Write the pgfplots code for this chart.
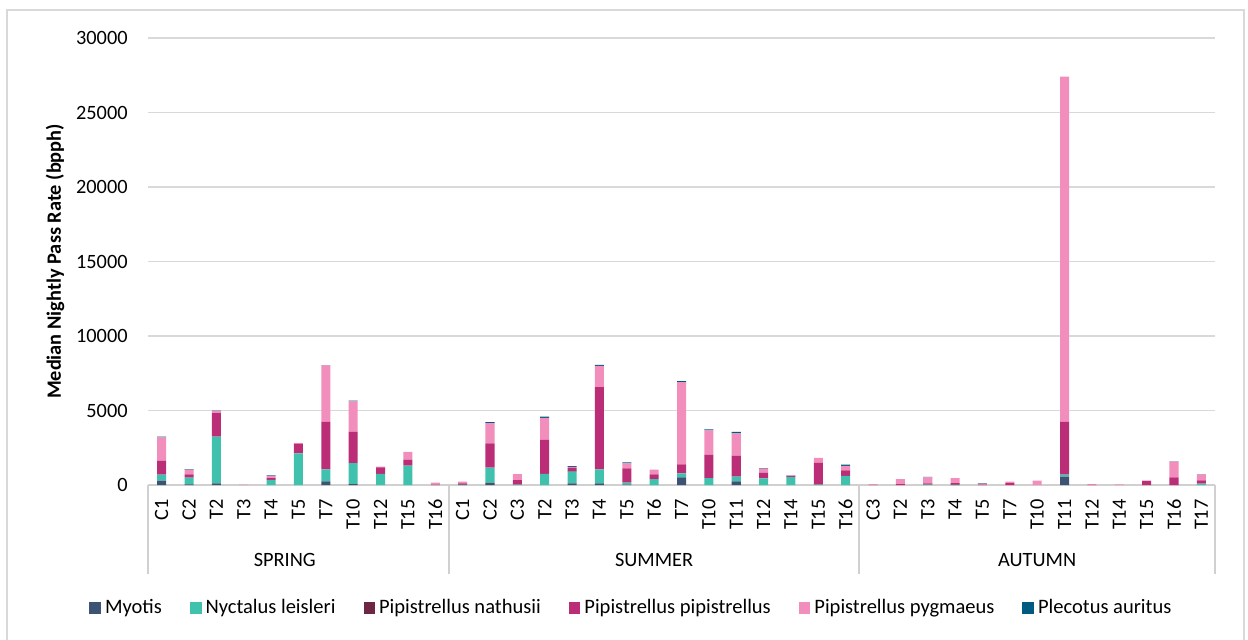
\documentclass[border=0pt]{standalone}
\usepackage{pgfplots}
\pgfplotsset{compat=1.18}
\usepackage{pgfplotstable}
\usepackage{fontspec}
\setmainfont{Carlito}
\definecolor{cMy}{HTML}{3D5373}
\definecolor{cNy}{HTML}{40C1AD}
\definecolor{cNat}{HTML}{6D2744}
\definecolor{cPip}{HTML}{BB2D77}
\definecolor{cPyg}{HTML}{F28EBB}
\definecolor{cPl}{HTML}{005B82}
\definecolor{gridgray}{HTML}{D9D9D9}
\definecolor{axgray}{HTML}{D0D0D0}
\pgfplotstableread{
x My Ny Nat Pip Pyg Pl
0 290 400 0 940 1570 50
1 40 450 0 226 314 40
2 110 3140 0 1570 150 30
3 0 0 0 0 20 0
4 0 350 0 120 150 20
5 0 2128 0 627 50 0
6 246 807 0 3180 3790 30
7 67 1410 0 2100 2040 50
8 0 740 0 450 40 0
9 0 1300 0 400 530 0
10 0 0 0 30 130 0
11 20 0 30 60 110 0
12 157 1010 0 1635 1344 66
13 0 30 0 306 400 0
14 0 740 0 2284 1480 90
15 112 784 60 190 70 50
16 112 940 0 5510 1434 70
17 30 127 0 963 336 67
18 0 403 0 313 314 0
19 515 269 0 605 5510 66
20 0 470 0 1568 1636 67
21 246 314 0 1411 1501 90
22 0 448 0 381 269 30
23 0 538 0 50 62 20
24 0 20 0 1458 336 0
25 0 605 0 381 291 89
26 0 0 0 10 35 0
27 0 0 0 67 336 0
28 0 30 20 62 403 30
29 20 0 20 94 336 0
30 0 0 0 20 80 20
31 0 0 0 134 90 0
32 0 0 0 0 290 0
33 560 134 0 3540 23170 0
34 0 0 0 10 57 0
35 0 0 0 0 40 0
36 0 0 0 269 21 0
37 0 0 0 515 1053 20
38 0 90 0 224 403 20
}\data
\begin{document}
\begin{tikzpicture}[x=1bp,y=1bp]
\useasboundingbox (0,0) rectangle (624,319.5);
\draw[gridgray, line width=0.9bp] (3.5,-5) -- (3.5,314.5) -- (622,314.5) -- (622,-5);
\begin{axis}[
  at={(74bp,77bp)}, anchor=south west,
  scale only axis, width=533.5bp, height=223.5bp,
  ybar stacked, bar width=0.33,
  xmin=-0.5, xmax=38.5, ymin=0, ymax=30000,
  xtick={0,...,38},
  xticklabels={C1,C2,T2,T3,T4,T5,T7,T10,T12,T15,T16,C1,C2,C3,T2,T3,T4,T5,T6,T7,T10,T11,T12,T14,T15,T16,C3,T2,T3,T4,T5,T7,T10,T11,T12,T14,T15,T16,T17},
  ytick={0,5000,10000,15000,20000,25000,30000},
  scaled y ticks=false,
  ymajorgrids, grid style={gridgray, line width=0.9bp},
  axis x line*=bottom, axis y line*=left,
  x axis line style={axgray, line width=0.9bp, -},
  y axis line style={draw=none},
  major tick length=0pt,
  /pgf/number format/assume math mode=true,
  /pgf/number format/1000 sep={},
  tick label style={font=\fontsize{10.2}{12}\selectfont, inner sep=0pt},
  xticklabel style={rotate=90, anchor=east},
  xticklabel shift=7bp,
  yticklabel shift=10bp,
  ylabel={\textbf{Median Nightly Pass Rate (bpph)}},
  ylabel style={font=\fontsize{10.2}{12}\selectfont, at={(axis description cs:-0.0872,0.5)}, anchor=center},
  clip=false,
  legend columns=6,
  legend style={at={(axis description cs:0.454,-0.275)}, anchor=center, draw=none, fill=none,
    font=\fontsize{10.3}{12}\selectfont, /tikz/every even column/.append style={column sep=12bp}},
  legend image code/.code={\fill[#1] (0bp,-2.9bp) rectangle (5.8bp,2.9bp);},
  legend cell align=left,
]
\addplot[fill=cMy, draw=none] table[x=x,y=My] {\data};
\addplot[fill=cNy, draw=none] table[x=x,y=Ny] {\data};
\addplot[fill=cNat, draw=none] table[x=x,y=Nat] {\data};
\addplot[fill=cPip, draw=none] table[x=x,y=Pip] {\data};
\addplot[fill=cPyg, draw=none] table[x=x,y=Pyg] {\data};
\addplot[fill=cPl, draw=none] table[x=x,y=Pl] {\data};
\legend{Myotis, Nyctalus leisleri, Pipistrellus nathusii, Pipistrellus pipistrellus, Pipistrellus pygmaeus, Plecotus auritus}
\draw[axgray, line width=0.9bp] (axis cs:-0.5,0) -- ++(0bp,-44.5bp);
\draw[axgray, line width=0.9bp] (axis cs:10.5,0) -- ++(0bp,-44.5bp);
\draw[axgray, line width=0.9bp] (axis cs:25.5,0) -- ++(0bp,-44.5bp);
\draw[axgray, line width=0.9bp] (axis cs:38.5,0) -- ++(0bp,-44.5bp);
\node[font=\fontsize{10.2}{12}\selectfont, yshift=-37.5bp] at (axis cs:4.5,0) {SPRING};
\node[font=\fontsize{10.2}{12}\selectfont, yshift=-37.5bp] at (axis cs:18,0) {SUMMER};
\node[font=\fontsize{10.2}{12}\selectfont, yshift=-37.5bp] at (axis cs:32,0) {AUTUMN};
\end{axis}
\end{tikzpicture}
\end{document}
